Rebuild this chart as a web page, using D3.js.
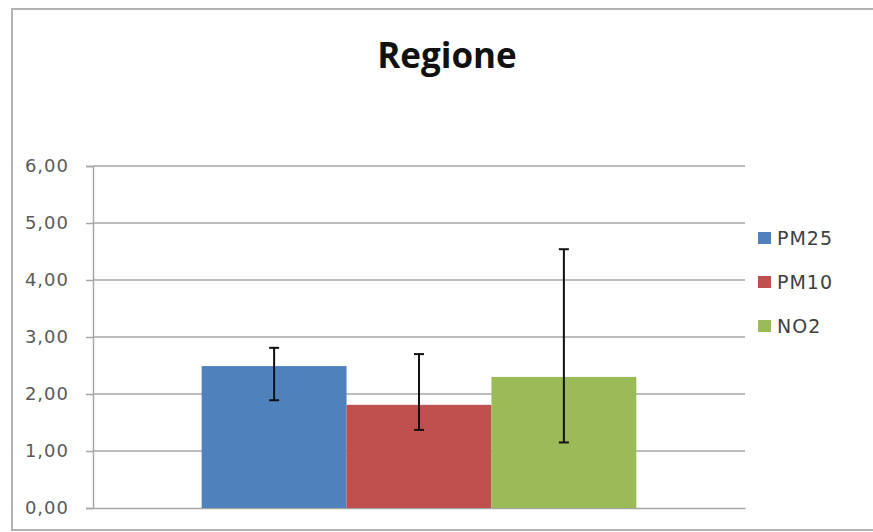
<!DOCTYPE html>
<html><head><meta charset="utf-8">
<script src="https://cdn.jsdelivr.net/npm/d3@7"></script>
<style>
html,body{margin:0;padding:0;background:#fff;}
svg{display:block;}
</style></head>
<body>
<svg id="chart" width="873" height="532"></svg>
<script>
const title = "Regione";
const categories = [""];
const series = ["PM25", "PM10", "NO2"];
const values = [2.49, 1.81, 2.30];
const errLow = [1.89, 1.37, 1.15];
const errHigh = [2.81, 2.70, 4.54];
const colors = ["#4F81BD", "#C0504D", "#9BBB59"];
const yTicks = [0, 1, 2, 3, 4, 5, 6];

const svg = d3.select("#chart");
const M = {left: 93, right: 745, top: 166, bottom: 508};

// outer frame
svg.append("rect").attr("x", 12).attr("y", 9).attr("width", 880).attr("height", 521)
  .attr("fill", "#fff").attr("stroke", "#b3b3b3").attr("stroke-width", 2);

svg.append("text").attr("x", 447).attr("y", 68).attr("text-anchor", "middle")
  .attr("font-family", "'Open Sans', sans-serif").attr("font-weight", "bold")
  .attr("font-size", 35).attr("fill", "#111").text(title);

const y = d3.scaleLinear().domain([0, 6]).range([M.bottom, M.top]);
const x0 = d3.scaleBand().domain(categories).range([M.left, M.right]).paddingInner(0).paddingOuter(0.25);
const x1 = d3.scaleBand().domain(series).range([0, x0.bandwidth()]).padding(0);

// gridlines
svg.append("g").selectAll("line").data(yTicks.filter(d => d > 0)).join("line")
  .attr("x1", M.left).attr("x2", M.right).attr("y1", d => y(d)).attr("y2", d => y(d))
  .attr("stroke", "#a6a6a6").attr("stroke-width", 1.5);

// y axis
const yAxis = svg.append("g").attr("transform", `translate(${M.left},0)`)
  .call(d3.axisLeft(y).tickValues(yTicks).tickSize(7).tickPadding(17)
    .tickFormat(d => d3.format(".2f")(d).replace(".", ",")));
yAxis.select(".domain").attr("stroke", "#a6a6a6").attr("stroke-width", 1.5);
yAxis.selectAll(".tick line").attr("stroke", "#a6a6a6").attr("stroke-width", 1.5);
yAxis.selectAll(".tick text").attr("font-family", "'DejaVu Sans', sans-serif")
  .attr("font-size", 18).attr("fill", "#5a5a5a").attr("letter-spacing", 1);

// x axis baseline
svg.append("g").attr("transform", `translate(0,${M.bottom})`)
  .call(d3.axisBottom(x0).tickSize(0).tickFormat(""))
  .select(".domain").attr("stroke", "#a6a6a6").attr("stroke-width", 1.5);

const rows = series.map((s, i) => ({s, v: values[i], lo: errLow[i], hi: errHigh[i], c: colors[i]}));
const g = svg.append("g").attr("transform", `translate(${x0(categories[0])},0)`);
g.selectAll("rect").data(rows).join("rect")
  .attr("x", d => x1(d.s)).attr("width", x1.bandwidth())
  .attr("y", d => y(d.v)).attr("height", d => y(0) - y(d.v))
  .attr("fill", d => d.c);

// error bars
const eb = g.selectAll("g.err").data(rows).join("g").attr("class", "err")
  .attr("stroke", "#111").attr("stroke-width", 2);
eb.append("line").attr("x1", d => x1(d.s) + x1.bandwidth() / 2).attr("x2", d => x1(d.s) + x1.bandwidth() / 2)
  .attr("y1", d => y(d.lo)).attr("y2", d => y(d.hi));
eb.append("line").attr("x1", d => x1(d.s) + x1.bandwidth() / 2 - 5).attr("x2", d => x1(d.s) + x1.bandwidth() / 2 + 5)
  .attr("y1", d => y(d.lo)).attr("y2", d => y(d.lo));
eb.append("line").attr("x1", d => x1(d.s) + x1.bandwidth() / 2 - 5).attr("x2", d => x1(d.s) + x1.bandwidth() / 2 + 5)
  .attr("y1", d => y(d.hi)).attr("y2", d => y(d.hi));

// legend
const leg = svg.append("g").attr("transform", "translate(758,232)");
const li = leg.selectAll("g").data(rows).join("g").attr("transform", (d, i) => `translate(0,${i * 44})`);
li.append("rect").attr("width", 13).attr("height", 12).attr("fill", d => d.c);
li.append("text").attr("x", 19).attr("y", 13).attr("font-family", "'DejaVu Sans', sans-serif")
  .attr("font-size", 19).attr("fill", "#404040").attr("letter-spacing", 1).text(d => d.s);
</script>
</body></html>
